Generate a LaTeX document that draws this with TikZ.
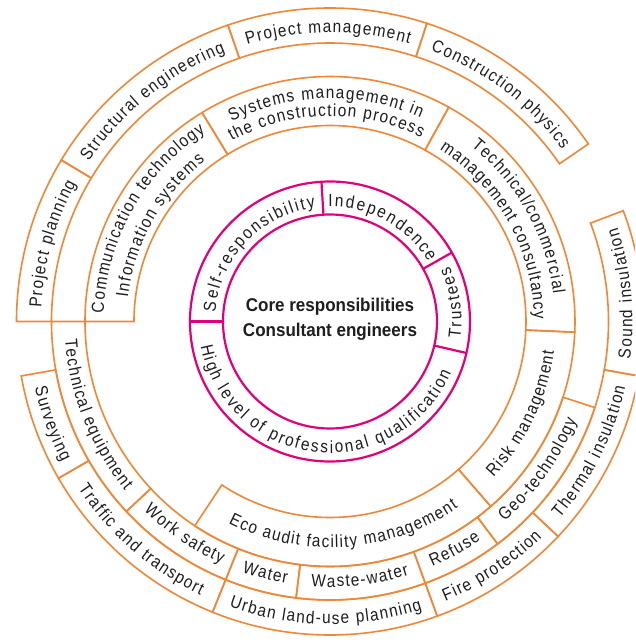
\documentclass[tikz,border=0pt]{standalone}
\usepackage{fontspec}
\setmainfont{Liberation Sans}
\newfontfamily\orgfam[FakeStretch=0.88]{Liberation Sans}
\usepackage{graphicx}
\usetikzlibrary{decorations.text}
\definecolor{org}{RGB}{240,135,55}
\definecolor{mag}{RGB}{226,0,122}
\definecolor{txt}{RGB}{30,30,30}
\newcommand\orgfont{\orgfam\fontsize{17.5}{20}\selectfont\kern1.3pt\relax}
\newcommand\magfont{\orgfam\fontsize{17.5}{21}\selectfont\kern2pt\relax}
\newcommand\ringsec[5]{\draw[#1] (#2:#5pt) arc[start angle=#2,end angle=#3,radius=#5pt] -- (#3:#4pt) arc[start angle=#3,end angle=#2,radius=#4pt] -- cycle;}
\newcommand\ttop[5]{\path[decorate,decoration={text along path,text color=txt,text align=center,text={|#4|#5}}] (#2+20:#3pt) arc[start angle=#2+20,end angle=#1-20,radius=#3pt];}
\newcommand\tbot[5]{\path[decorate,decoration={text along path,text color=txt,text align=center,text={|#4|#5}}] (#1-20:#3pt) arc[start angle=#1-20,end angle=#2+20,radius=#3pt];}
\tikzset{
  orgline/.style={draw=org,line width=1.6pt,line join=miter},
  magline/.style={draw=mag,line width=2.2pt}
}
\begin{document}
\begin{tikzpicture}[x=1pt,y=1pt]
\clip (-330,-318.5) rectangle (305,321.5);
\fill[white] (-330,-318.5) rectangle (305,321.5);
% ring A
\ringsec{orgline}{121.5}{180}{196}{245}
\ringsec{orgline}{61}{121.5}{196}{245}
\ringsec{orgline}{-2.5}{61}{196}{245}
\ringsec{orgline}{-49}{-2.5}{196}{245}
\ringsec{orgline}{-123.5}{-49}{196}{245}
% ring B
\ringsec{orgline}{180}{223}{245}{278.5}
\ringsec{orgline}{223}{248}{245}{278.5}
\ringsec{orgline}{248}{263}{245}{278.5}
\ringsec{orgline}{263}{290}{245}{278.5}
\ringsec{orgline}{290}{307}{245}{278.5}
\ringsec{orgline}{307}{342}{245}{278.5}
% ring C
\ringsec{orgline}{149}{180}{278.5}{313.5}
\ringsec{orgline}{109}{149}{278.5}{313.5}
\ringsec{orgline}{72}{109}{278.5}{313.5}
\ringsec{orgline}{34.5}{72}{278.5}{313.5}
\ringsec{orgline}{-10}{20.7}{278.5}{313.5}
\ringsec{orgline}{-43.3}{-10}{278.5}{313.5}
\ringsec{orgline}{-70}{-43.3}{278.5}{313.5}
\ringsec{orgline}{-112}{-70}{278.5}{313.5}
\ringsec{orgline}{-150}{-112}{278.5}{313.5}
\ringsec{orgline}{-170}{-150}{278.5}{313.5}
% magenta ring
\draw[magline] (0,0) circle[radius=107pt];
\draw[magline] (0,0) circle[radius=140pt];
\foreach \a in {180,93.5,29.5,-13} \draw[magline] (\a:107pt) -- (\a:140pt);
% centre text
\node[anchor=base,text=txt,font=\bfseries\fontsize{18.5}{21}\selectfont] (core1) at (0,9.8) {\scalebox{0.92}[1]{Core responsibilities}};
\node[anchor=base,text=txt,font=\bfseries\fontsize{18.5}{21}\selectfont] (core2) at (0,-15.2) {\scalebox{0.92}[1]{Consultant engineers}};
% magenta texts
\ttop{93.5}{180}{115}{\magfont}{Self-responsibility}
\ttop{29.5}{93.5}{115}{\magfont}{Independence}
\tbot{-13}{29.5}{131.5}{\magfont}{Trustees}
\tbot{180}{347}{131.5}{\magfont}{High level of professional qualification}
% ring C top
\ttop{149}{180}{289}{\orgfont}{Project planning}
\ttop{109}{149}{289}{\orgfont}{Structural engineering}
\ttop{72}{109}{289}{\orgfont}{Project management}
\ttop{34.5}{72}{289}{\orgfont}{Construction physics}
% ring A top two-line
\ttop{121.5}{180}{226.5}{\orgfont}{Communication technology}
\ttop{121.5}{180}{203.5}{\orgfont}{Information systems}
\ttop{61}{121.5}{223}{\orgfont}{Systems management in}
\ttop{61}{121.5}{205.5}{\orgfont}{the construction process}
\ttop{-2.5}{61}{225}{\orgfont}{Technical/commercial}
\ttop{-2.5}{61}{204}{\orgfont}{management consultancy}
% ring A bottom
\tbot{-49}{-2.5}{226}{\orgfont}{Risk management}
\tbot{-123.5}{-49}{226}{\orgfont}{Eco audit facility management}
% ring B bottom
\tbot{180}{223}{265.5}{\orgfont}{Technical equipment}
\tbot{223}{248}{265.5}{\orgfont}{Work safety}
\tbot{248}{263}{265.5}{\orgfont}{Water}
\tbot{263}{290}{265.5}{\orgfont}{Waste-water}
\tbot{290}{307}{265.5}{\orgfont}{Refuse}
\tbot{307}{342}{265.5}{\orgfont}{Geo-technology}
% ring C bottom
\tbot{-10}{20.7}{302.5}{\orgfont}{Sound insulation}
\tbot{-43.3}{-10}{302.5}{\orgfont}{Thermal insulation}
\tbot{-70}{-43.3}{302.5}{\orgfont}{Fire protection}
\tbot{-112}{-70}{302.5}{\orgfont}{Urban land-use planning}
\tbot{-150}{-112}{302.5}{\orgfont}{Traffic and transport}
\tbot{-170}{-150}{302.5}{\orgfont}{Surveying}
\end{tikzpicture}
\end{document}
